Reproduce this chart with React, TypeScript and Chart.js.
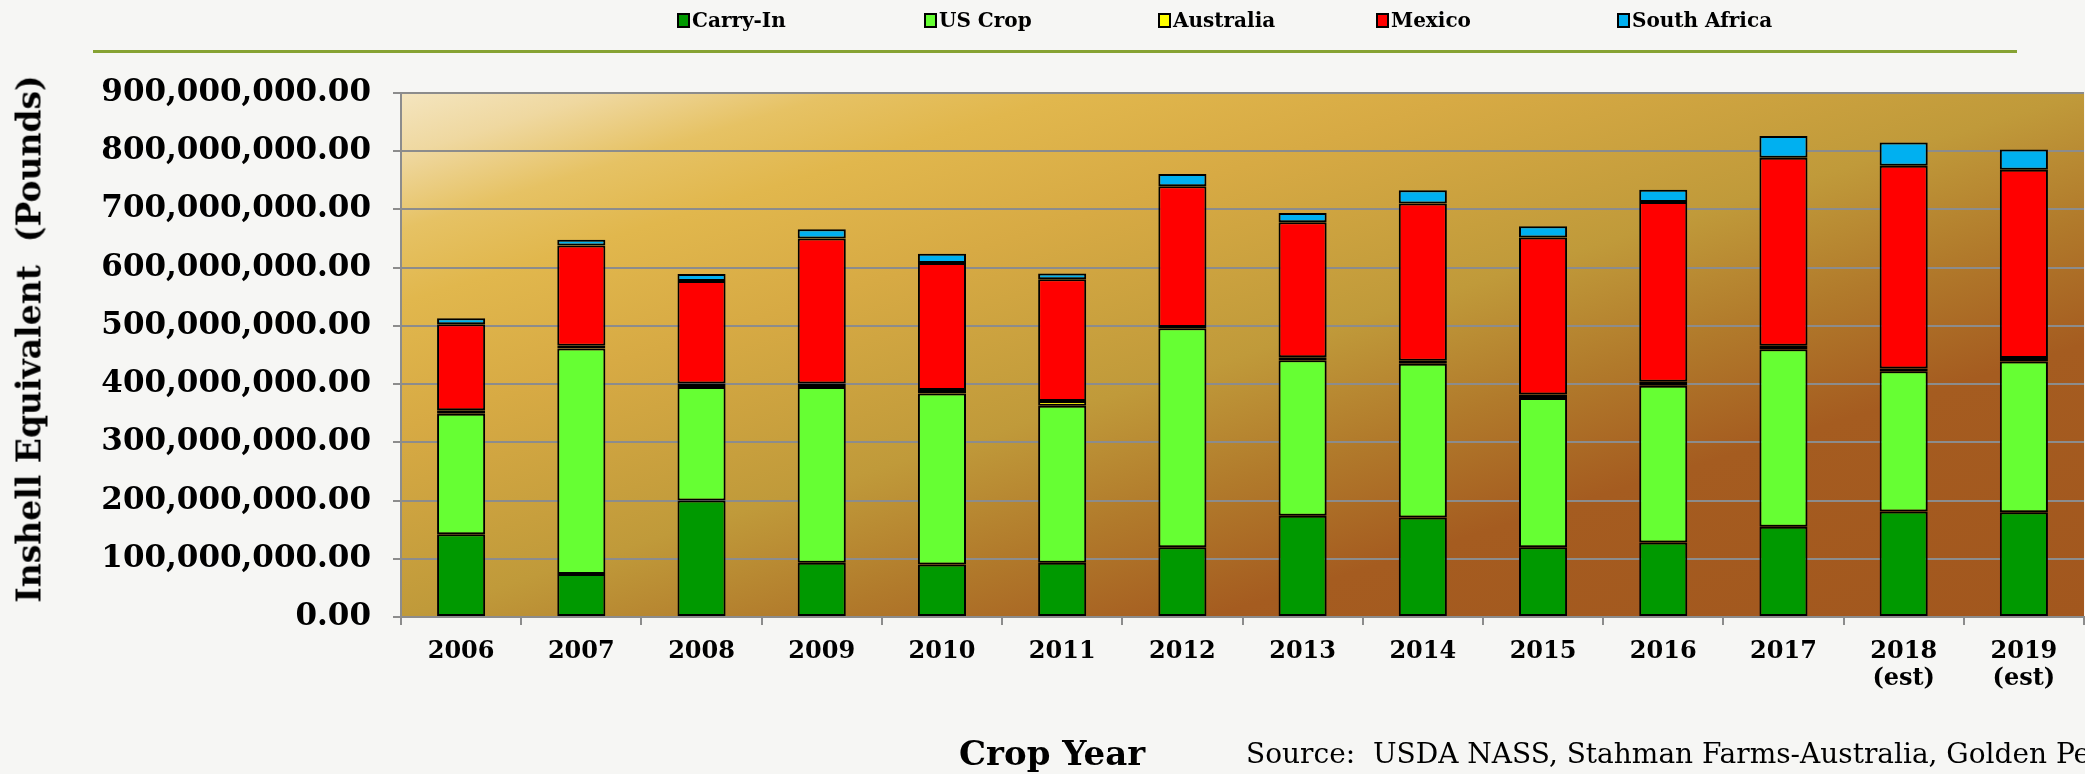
import { useEffect, useRef } from 'react';
import { Chart, registerables } from 'chart.js';

Chart.register(...registerables);

// ---- Data (pounds, inshell equivalent) ----
const categories: (string | string[])[] = [
  '2006', '2007', '2008', '2009', '2010', '2011', '2012',
  '2013', '2014', '2015', '2016', '2017', ['2018', '(est)'], ['2019', '(est)'],
];

const carryIn = [142e6, 74e6, 200e6, 93e6, 90e6, 93e6, 120e6, 174e6, 171e6, 120e6, 128e6, 155e6, 181e6, 180e6];
const usCrop = [207e6, 387e6, 195e6, 302e6, 294e6, 270e6, 376e6, 267e6, 264e6, 256e6, 269e6, 305e6, 241e6, 259e6];
const australia = [6e6, 5e6, 6e6, 6e6, 6e6, 8e6, 2e6, 5e6, 5e6, 6e6, 7e6, 6e6, 5e6, 6e6];
const mexico = [148e6, 172e6, 176e6, 249e6, 218e6, 209e6, 242e6, 232e6, 270e6, 270e6, 309e6, 323e6, 348e6, 323e6];
const southAfrica = [10e6, 10e6, 12e6, 16e6, 16e6, 10e6, 21e6, 16e6, 23e6, 19e6, 21e6, 37e6, 40e6, 35e6];

const seriesNames = ['Carry-In', 'US Crop', 'Australia', 'Mexico', 'South Africa'];
const seriesColors = ['#009900', '#66ff33', '#ffff00', '#ff0000', '#00b0f0'];
const seriesValues = [carryIn, usCrop, australia, mexico, southAfrica];

const yAxisTitle = 'Inshell Equivalent  (Pounds)';
const xAxisTitle = 'Crop Year';
const sourceText = 'Source:  USDA NASS, Stahman Farms-Australia, Golden Peanut';

// ---- layout helpers ----
const legendX = [677, 924, 1158, 1376, 1617];

const bgPlugin = {
  id: 'plotBg',
  beforeDraw(chart: any) {
    const { ctx, chartArea } = chart;
    const { left, top, right, bottom } = chartArea;
    const w = right - left;
    const h = bottom - top;
    const k = (2 * w * h) / (w * w + h * h);
    const g = ctx.createLinearGradient(left, top, left + k * h, top + k * w);
    g.addColorStop(0, '#f4e5bf');
    g.addColorStop(0.06, '#efd8a0');
    g.addColorStop(0.13, '#e6c264');
    g.addColorStop(0.2, '#e1b74d');
    g.addColorStop(0.32, '#d7aa44');
    g.addColorStop(0.5, '#c09a3a');
    g.addColorStop(0.62, '#b17a2b');
    g.addColorStop(0.74, '#a55c20');
    g.addColorStop(1, '#a2571e');
    ctx.save();
    ctx.fillStyle = g;
    ctx.fillRect(left, top, w, h);
    ctx.restore();
  },
};

export default function App() {
  const ref = useRef<HTMLCanvasElement>(null);

  useEffect(() => {
    document.body.style.margin = '0';
    const gray = '#8c8c8c';
    const chart = new Chart(ref.current as HTMLCanvasElement, {
      type: 'bar',
      data: {
        labels: categories as any,
        datasets: seriesNames.map((name, i) => ({
          label: name,
          data: seriesValues[i],
          backgroundColor: seriesColors[i],
          borderColor: '#000000',
          borderWidth: 2,
          borderSkipped: false as any,
          categoryPercentage: 1,
          barPercentage: 0.4,
        })),
      },
      options: {
        responsive: false,
        animation: false,
        layout: { padding: { top: 93, right: 1, bottom: 0, left: 0 } },
        plugins: {
          legend: { display: false },
          tooltip: { enabled: false },
        },
        scales: {
          x: {
            stacked: true,
            grid: {
              display: true,
              drawOnChartArea: false,
              color: gray,
              lineWidth: 2,
              tickLength: 8,
              offset: true,
            },
            border: { color: gray, width: 2 },
            ticks: {
              color: '#000',
              autoSkip: false,
              maxRotation: 0,
              padding: 13,
              font: { family: 'DejaVu Serif', weight: 'bold', size: 24, lineHeight: 1.12 },
            },
            afterFit: (s: any) => {
              s.height = 157;
            },
          },
          y: {
            stacked: true,
            min: 0,
            max: 9e8,
            ticks: {
              stepSize: 1e8,
              color: '#000',
              padding: 22,
              font: { family: 'DejaVu Serif', weight: 'bold', size: 31 },
              callback: (v: any) =>
                Number(v).toLocaleString('en-US', { minimumFractionDigits: 2, maximumFractionDigits: 2 }),
            },
            grid: { color: gray, lineWidth: 2, tickLength: 8 },
            border: { color: gray, width: 2 },
            afterFit: (s: any) => {
              s.width = 401;
            },
          },
        },
      },
      plugins: [bgPlugin],
    });
    return () => chart.destroy();
  }, []);

  return (
    <div
      style={{
        position: 'fixed',
        left: 0,
        top: 0,
        width: 2085,
        height: 774,
        background: '#f6f6f4',
        overflow: 'hidden',
      }}
    >
      <canvas ref={ref} width={2085} height={774} style={{ position: 'absolute', left: 0, top: 0 }} />
      {seriesNames.map((name, i) => (
        <div
          key={name}
          style={{
            position: 'absolute',
            left: legendX[i],
            top: 20,
            transform: 'translateY(-50%)',
            display: 'flex',
            alignItems: 'center',
            whiteSpace: 'nowrap',
          }}
        >
          <span
            style={{
              display: 'inline-block',
              width: 13,
              height: 15,
              boxSizing: 'border-box',
              border: '2px solid #000',
              background: seriesColors[i],
            }}
          />
          <span
            style={{
              marginLeft: 2,
              font: 'bold 20px "DejaVu Serif"',
              color: '#000',
            }}
          >
            {name}
          </span>
        </div>
      ))}
      <div
        style={{
          position: 'absolute',
          left: 93,
          top: 50,
          width: 1924,
          height: 3,
          background: '#86a232',
        }}
      />
      <div
        style={{
          position: 'absolute',
          left: 29,
          top: 339,
          transform: 'translate(-50%, -50%) rotate(-90deg)',
          whiteSpace: 'pre',
          font: 'bold 33px "DejaVu Serif"',
          color: '#000',
        }}
      >
        {yAxisTitle}
      </div>
      <div
        style={{
          position: 'absolute',
          left: 959,
          top: 753,
          transform: 'translateY(-50%)',
          whiteSpace: 'nowrap',
          font: 'bold 34px "DejaVu Serif"',
          color: '#000',
        }}
      >
        {xAxisTitle}
      </div>
      <div
        style={{
          position: 'absolute',
          left: 1246,
          top: 753,
          transform: 'translateY(-50%)',
          whiteSpace: 'pre',
          font: '28px "DejaVu Serif"',
          color: '#000',
        }}
      >
        {sourceText}
      </div>
    </div>
  );
}
